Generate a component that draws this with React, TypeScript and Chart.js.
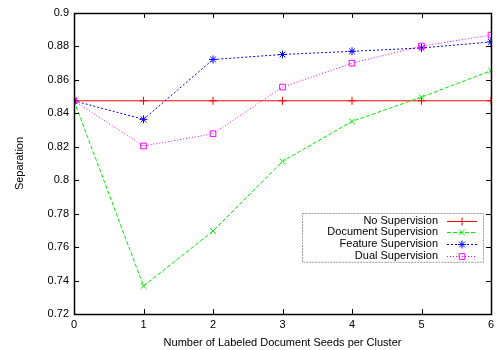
import React, { useEffect, useRef } from "react";
import { Chart, registerables } from "chart.js";
import { drawPoint } from "chart.js/helpers";

Chart.register(...registerables);

const seeds = [0, 1, 2, 3, 4, 5, 6];
const noSupervision = [0.8475, 0.8475, 0.8475, 0.8475, 0.8475, 0.8475, 0.8475];
const documentSupervision = [0.8475, 0.7367, 0.7696, 0.8113, 0.8352, 0.8497, 0.8655];
const featureSupervision = [0.8475, 0.8364, 0.8722, 0.8752, 0.8771, 0.8791, 0.8827];
const dualSupervision = [0.8475, 0.8205, 0.8278, 0.8557, 0.8700, 0.8802, 0.8868];
const seriesLabels = ["No Supervision", "Document Supervision", "Feature Supervision", "Dual Supervision"];
const xTitle = "Number of Labeled Document Seeds per Cluster";
const yTitle = "Separation";

const FONT = "'Liberation Sans', Arial, sans-serif";

const frameTicks = {
  id: "frameTicks",
  afterDraw(chart: any) {
    const { ctx, chartArea: a, scales } = chart;
    ctx.save();
    ctx.strokeStyle = "#000";
    ctx.lineWidth = 1;
    const L = 5;
    ctx.beginPath();
    scales.y.ticks.forEach((t: any) => {
      const y = Math.round(scales.y.getPixelForValue(t.value)) + 0.5;
      ctx.moveTo(a.left, y);
      ctx.lineTo(a.left + L, y);
      ctx.moveTo(a.right, y);
      ctx.lineTo(a.right - L, y);
    });
    scales.x.ticks.forEach((t: any) => {
      const x = Math.round(scales.x.getPixelForValue(t.value)) + 0.5;
      ctx.moveTo(x, a.bottom);
      ctx.lineTo(x, a.bottom - L);
      ctx.moveTo(x, a.top);
      ctx.lineTo(x, a.top + L);
    });
    ctx.stroke();
    ctx.lineWidth = 1.5;
    ctx.strokeRect(Math.round(a.left) + 0.5, Math.round(a.top) + 0.5, Math.round(a.right - a.left), Math.round(a.bottom - a.top));
    ctx.restore();
  },
};

const keyLegend = {
  id: "keyLegend",
  afterDatasetsDraw(chart: any) {
    const { ctx, chartArea: a } = chart;
    const ds = chart.data.datasets;
    const boxRight = a.right - 8;
    const boxLeft = boxRight - 181;
    const boxTop = a.bottom - 101;
    const rowH = 11.7;
    const boxH = ds.length * rowH + 2;
    ctx.save();
    ctx.fillStyle = "#fff";
    ctx.fillRect(boxLeft, boxTop, boxRight - boxLeft, boxH);
    ctx.strokeStyle = "#999";
    ctx.lineWidth = 1;
    ctx.setLineDash([2, 1]);
    ctx.strokeRect(boxLeft + 0.5, boxTop + 0.5, boxRight - boxLeft, boxH);
    ctx.font = `11px ${FONT}`;
    ctx.textAlign = "right";
    ctx.textBaseline = "middle";
    ds.forEach((d: any, i: number) => {
      const y = boxTop + 7.5 + i * rowH;
      ctx.setLineDash([]);
      ctx.fillStyle = "#000";
      ctx.fillText(d.label, boxLeft + 136, y);
      ctx.strokeStyle = d.borderColor;
      ctx.lineWidth = d.borderWidth;
      ctx.setLineDash(d.borderDash || []);
      ctx.beginPath();
      ctx.moveTo(boxLeft + 145, Math.round(y) + 0.5);
      ctx.lineTo(boxLeft + 175, Math.round(y) + 0.5);
      ctx.stroke();
      ctx.setLineDash([]);
      ctx.strokeStyle = d.borderColor;
      ctx.fillStyle = "rgba(0,0,0,0)";
      ctx.lineWidth = d.pointBorderWidth;
      drawPoint(
        ctx,
        {
          pointStyle: d.pointStyle,
          radius: d.pointRadius,
          rotation: 0,
          borderWidth: d.pointBorderWidth,
        } as any,
        boxLeft + 160,
        Math.round(y) + 0.5
      );
    });
    ctx.restore();
  },
};

export default function App() {
  const ref = useRef<HTMLCanvasElement>(null);
  useEffect(() => {
    document.body.style.margin = "0";
    const mk = (label: string, data: number[], color: string, dash: number[], style: string, order: number, width = 1) => ({
      label,
      data: seeds.map((x, i) => ({ x, y: data[i] })),
      borderColor: color,
      backgroundColor: "rgba(0,0,0,0)",
      pointBorderColor: color,
      pointBackgroundColor: "rgba(0,0,0,0)",
      borderWidth: width,
      borderDash: dash,
      pointStyle: style,
      pointRadius: 4,
      pointBorderWidth: 1,
      order,
      tension: 0,
    });
    const chart = new Chart(ref.current!, {
      type: "line",
      data: {
        datasets: [
          mk(seriesLabels[0], noSupervision, "#ff0000", [], "cross", 4),
          mk(seriesLabels[1], documentSupervision, "#00ee00", [4, 2], "crossRot", 3),
          mk(seriesLabels[2], featureSupervision, "#0000ff", [2, 2], "star", 2),
          mk(seriesLabels[3], dualSupervision, "#ff00ff", [1, 2], "rect", 1),
        ] as any,
      },
      options: {
        responsive: false,
        animation: false,
        layout: { padding: { top: 13, right: 11, left: 0, bottom: 0 } },
        plugins: { legend: { display: false }, tooltip: { enabled: false } },
        scales: {
          x: {
            type: "linear",
            min: 0,
            max: 6,
            afterFit: (s: any) => { s.height = 36; },
            ticks: { stepSize: 1, color: "#000", font: { family: FONT, size: 11 }, padding: 4, maxRotation: 0 },
            grid: { display: false, drawTicks: false },
            border: { display: false },
            title: { display: true, text: xTitle, color: "#000", font: { family: FONT, size: 11 }, padding: { top: 2, bottom: 0 } },
          },
          y: {
            min: 0.72,
            max: 0.9,
            afterFit: (s: any) => { s.width = 74; },
            ticks: {
              stepSize: 0.02,
              color: "#000",
              font: { family: FONT, size: 11 },
              padding: 5,
              callback: (v: any) => String(Number(Number(v).toFixed(2))),
            },
            grid: { display: false, drawTicks: false },
            border: { display: false },
            title: { display: true, text: yTitle, color: "#000", font: { family: FONT, size: 11 }, padding: { top: 13, bottom: 0 } },
          },
        },
      } as any,
      plugins: [frameTicks, keyLegend],
    });
    return () => chart.destroy();
  }, []);
  return (
    <div style={{ width: 502, height: 350, background: "#fff" }}>
      <canvas ref={ref} width={502} height={350} />
    </div>
  );
}
